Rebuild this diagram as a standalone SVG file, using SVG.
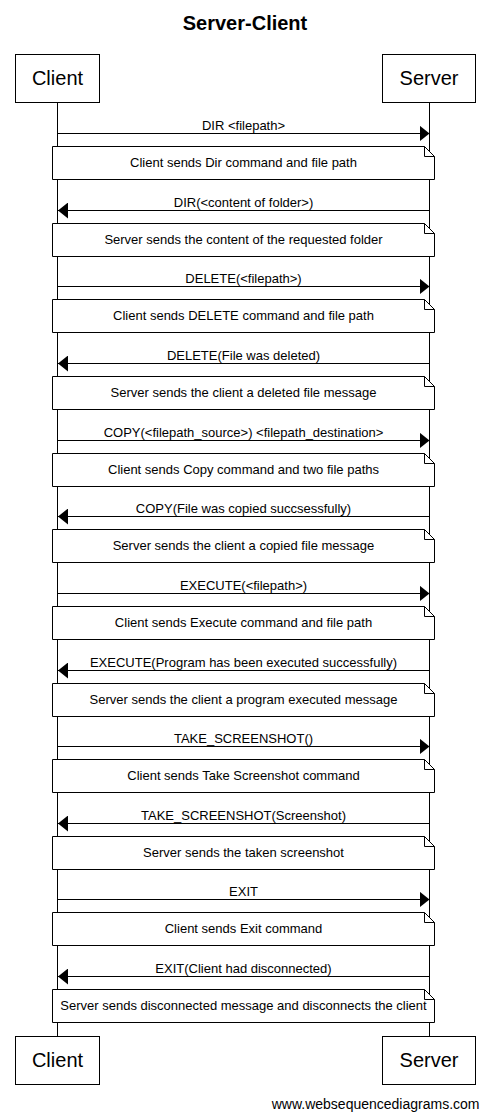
<svg xmlns="http://www.w3.org/2000/svg" width="490" height="1119" viewBox="0 0 490 1119">
<style>
text{font-family:"Liberation Sans",Arial,sans-serif;fill:#000}
.title{font-size:20px;font-weight:bold;text-anchor:middle}
.actor rect{fill:#fff;stroke:#000;stroke-width:1}
.actor text{font-size:20px;text-anchor:middle}
.life{stroke:#000;stroke-width:1;fill:none}
.msg line{stroke:#000;stroke-width:1}
.msg text{font-size:13px;text-anchor:middle}
.note path.body{fill:#fff;stroke:#000;stroke-width:1}
.note path.fold{fill:none;stroke:#000;stroke-width:1}
.note text{font-size:13px;text-anchor:middle}
.footer{font-size:14px;text-anchor:end}
</style>
<defs>
<marker id="ah" viewBox="0 0 10 16" refX="10" refY="8" markerWidth="10" markerHeight="16" markerUnits="userSpaceOnUse" orient="auto">
<path d="M0,0 L10,8 L0,16 Z" fill="#000"/>
</marker>
</defs>
<rect width="490" height="1119" fill="#fff"/>
<text class="title" x="245" y="30">Server-Client</text>

<g id="lifelines">
<line class="life" x1="57.5" y1="103" x2="57.5" y2="1036"/>
<line class="life" x1="429.5" y1="103" x2="429.5" y2="1036"/>
</g>

<g id="client-top" class="actor"><rect x="15.5" y="54.5" width="84" height="48"/><text x="57.5" y="85">Client</text></g>
<g id="server-top" class="actor"><rect x="382.5" y="54.5" width="93" height="48"/><text x="429" y="85">Server</text></g>
<g id="client-bottom" class="actor"><rect x="15.5" y="1036.5" width="84" height="48"/><text x="57.5" y="1067">Client</text></g>
<g id="server-bottom" class="actor"><rect x="382.5" y="1036.5" width="93" height="48"/><text x="429" y="1067">Server</text></g>

<g id="connectors" class="msg">
<line x1="57.5" y1="133.5" x2="429.5" y2="133.5" marker-end="url(#ah)"/><text x="243.5" y="130">DIR &lt;filepath&gt;</text>
<line x1="429.5" y1="210.5" x2="58" y2="210.5" marker-end="url(#ah)"/><text x="243.5" y="207">DIR(&lt;content of folder&gt;)</text>
<line x1="57.5" y1="286.5" x2="429.5" y2="286.5" marker-end="url(#ah)"/><text x="243.5" y="283">DELETE(&lt;filepath&gt;)</text>
<line x1="429.5" y1="363.5" x2="58" y2="363.5" marker-end="url(#ah)"/><text x="243.5" y="360">DELETE(File was deleted)</text>
<line x1="57.5" y1="440.5" x2="429.5" y2="440.5" marker-end="url(#ah)"/><text x="243.5" y="437">COPY(&lt;filepath_source&gt;) &lt;filepath_destination&gt;</text>
<line x1="429.5" y1="516.5" x2="58" y2="516.5" marker-end="url(#ah)"/><text x="243.5" y="513">COPY(File was copied succsessfully)</text>
<line x1="57.5" y1="593.5" x2="429.5" y2="593.5" marker-end="url(#ah)"/><text x="243.5" y="590">EXECUTE(&lt;filepath&gt;)</text>
<line x1="429.5" y1="670.5" x2="58" y2="670.5" marker-end="url(#ah)"/><text x="243.5" y="667">EXECUTE(Program has been executed successfully)</text>
<line x1="57.5" y1="746.5" x2="429.5" y2="746.5" marker-end="url(#ah)"/><text x="243.5" y="743">TAKE_SCREENSHOT()</text>
<line x1="429.5" y1="823.5" x2="58" y2="823.5" marker-end="url(#ah)"/><text x="243.5" y="820">TAKE_SCREENSHOT(Screenshot)</text>
<line x1="57.5" y1="899.5" x2="429.5" y2="899.5" marker-end="url(#ah)"/><text x="243.5" y="896">EXIT</text>
<line x1="429.5" y1="976.5" x2="58" y2="976.5" marker-end="url(#ah)"/><text x="243.5" y="973">EXIT(Client had disconnected)</text>
</g>

<g id="note1" class="note"><path class="body" d="M52.5,146.5 H424.5 L434.5,156.5 V179.5 H52.5 Z"/><path class="fold" d="M424.5,146.5 V156.5 H434.5"/><text x="243.5" y="167">Client sends Dir command and file path</text></g>
<g id="note2" class="note"><path class="body" d="M52.5,223.5 H424.5 L434.5,233.5 V256.5 H52.5 Z"/><path class="fold" d="M424.5,223.5 V233.5 H434.5"/><text x="243.5" y="244">Server sends the content of the requested folder</text></g>
<g id="note3" class="note"><path class="body" d="M52.5,299.5 H424.5 L434.5,309.5 V332.5 H52.5 Z"/><path class="fold" d="M424.5,299.5 V309.5 H434.5"/><text x="243.5" y="320">Client sends DELETE command and file path</text></g>
<g id="note4" class="note"><path class="body" d="M52.5,376.5 H424.5 L434.5,386.5 V409.5 H52.5 Z"/><path class="fold" d="M424.5,376.5 V386.5 H434.5"/><text x="243.5" y="397">Server sends the client a deleted file message</text></g>
<g id="note5" class="note"><path class="body" d="M52.5,453.5 H424.5 L434.5,463.5 V486.5 H52.5 Z"/><path class="fold" d="M424.5,453.5 V463.5 H434.5"/><text x="243.5" y="474">Client sends Copy command and two file paths</text></g>
<g id="note6" class="note"><path class="body" d="M52.5,529.5 H424.5 L434.5,539.5 V562.5 H52.5 Z"/><path class="fold" d="M424.5,529.5 V539.5 H434.5"/><text x="243.5" y="550">Server sends the client a copied file message</text></g>
<g id="note7" class="note"><path class="body" d="M52.5,606.5 H424.5 L434.5,616.5 V639.5 H52.5 Z"/><path class="fold" d="M424.5,606.5 V616.5 H434.5"/><text x="243.5" y="627">Client sends Execute command and file path</text></g>
<g id="note8" class="note"><path class="body" d="M52.5,683.5 H424.5 L434.5,693.5 V716.5 H52.5 Z"/><path class="fold" d="M424.5,683.5 V693.5 H434.5"/><text x="243.5" y="704">Server sends the client a program executed message</text></g>
<g id="note9" class="note"><path class="body" d="M52.5,759.5 H424.5 L434.5,769.5 V792.5 H52.5 Z"/><path class="fold" d="M424.5,759.5 V769.5 H434.5"/><text x="243.5" y="780">Client sends Take Screenshot command</text></g>
<g id="note10" class="note"><path class="body" d="M52.5,836.5 H424.5 L434.5,846.5 V869.5 H52.5 Z"/><path class="fold" d="M424.5,836.5 V846.5 H434.5"/><text x="243.5" y="857">Server sends the taken screenshot</text></g>
<g id="note11" class="note"><path class="body" d="M52.5,912.5 H424.5 L434.5,922.5 V945.5 H52.5 Z"/><path class="fold" d="M424.5,912.5 V922.5 H434.5"/><text x="243.5" y="933">Client sends Exit command</text></g>
<g id="note12" class="note"><path class="body" d="M52.5,989.5 H424.5 L434.5,999.5 V1022.5 H52.5 Z"/><path class="fold" d="M424.5,989.5 V999.5 H434.5"/><text x="243.5" y="1010">Server sends disconnected message and disconnects the client</text></g>

<text class="footer" x="479.5" y="1109">www.websequencediagrams.com</text>
</svg>
